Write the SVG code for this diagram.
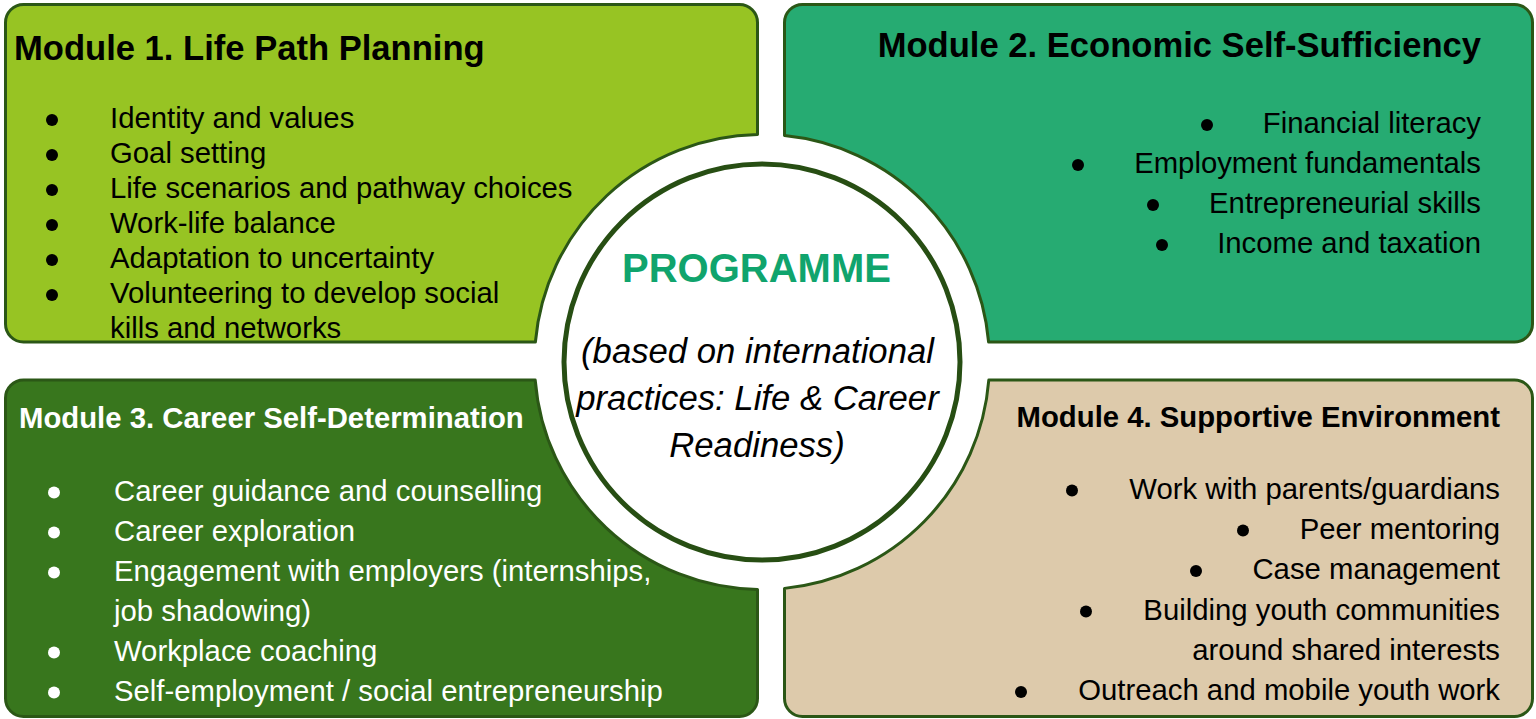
<svg xmlns="http://www.w3.org/2000/svg" width="1536" height="719" viewBox="0 0 1536 719">
<style>
.box{stroke:#2b5716;stroke-width:3;stroke-linejoin:round}
.title{font-family:"Liberation Sans",Arial,sans-serif;font-weight:bold;fill:#000}
.body{font-family:"Liberation Sans",Arial,sans-serif;font-size:29.3px;fill:#000}
.white{fill:#fff}
.blt{fill:#000}
.bltw{fill:#fff}
.it{font-family:"Liberation Sans",Arial,sans-serif;font-style:italic;font-size:34.7px;fill:#000}
</style>
<rect width="1536" height="719" fill="#fff"/>
<g id="module1">
<path class="box" fill="#97c423" d="M23.5,4.5 H739.5 A18,18 0 0 1 757.5,22.5 V134.54 A227.5,227.5 0 0 0 535.38,342 H23.5 A18,18 0 0 1 5.5,324 V22.5 A18,18 0 0 1 23.5,4.5 Z"/>
<text class="title" x="14" y="60" font-size="34.6">Module 1. Life Path Planning</text>
<g class="blt"><circle cx="52" cy="120" r="6"/><circle cx="52" cy="155" r="6"/><circle cx="52" cy="190" r="6"/><circle cx="52" cy="225" r="6"/><circle cx="52" cy="260" r="6"/><circle cx="52" cy="295" r="6"/></g>
<text class="body" x="110" y="128">Identity and values</text>
<text class="body" x="110" y="163">Goal setting</text>
<text class="body" x="110" y="198">Life scenarios and pathway choices</text>
<text class="body" x="110" y="233">Work-life balance</text>
<text class="body" x="110" y="268">Adaptation to uncertainty</text>
<text class="body" x="110" y="303">Volunteering to develop social</text>
<text class="body" x="110" y="338">kills and networks</text>
</g>
<g id="module2">
<path class="box" fill="#26ab72" d="M802.5,4.5 H1514.5 A18,18 0 0 1 1532.5,22.5 V324 A18,18 0 0 1 1514.5,342 H988.62 A227.5,227.5 0 0 0 784.5,135.6 V22.5 A18,18 0 0 1 802.5,4.5 Z"/>
<text class="title" x="1481" y="57" font-size="34.6" text-anchor="end">Module 2. Economic Self-Sufficiency</text>
<g class="blt"><circle cx="1207" cy="125" r="6"/><circle cx="1078" cy="165" r="6"/><circle cx="1153" cy="205" r="6"/><circle cx="1162" cy="245" r="6"/></g>
<text class="body" x="1481" y="133" text-anchor="end">Financial literacy</text>
<text class="body" x="1481" y="173" text-anchor="end">Employment fundamentals</text>
<text class="body" x="1481" y="213" text-anchor="end">Entrepreneurial skills</text>
<text class="body" x="1481" y="253" text-anchor="end">Income and taxation</text>
</g>
<g id="module3">
<path class="box" fill="#38761d" d="M23.5,380 H535.2 A227.5,227.5 0 0 0 757.5,589.46 V698.5 A18,18 0 0 1 739.5,716.5 H23.5 A18,18 0 0 1 5.5,698.5 V398 A18,18 0 0 1 23.5,380 Z"/>
<text class="title white" x="19" y="428" font-size="29.3">Module 3. Career Self-Determination</text>
<g class="bltw"><circle cx="54" cy="492.5" r="6"/><circle cx="54" cy="532.5" r="6"/><circle cx="54" cy="572.5" r="6"/><circle cx="54" cy="652.5" r="6"/><circle cx="54" cy="692.5" r="6"/></g>
<text class="body white" x="114" y="500.5">Career guidance and counselling</text>
<text class="body white" x="114" y="540.5">Career exploration</text>
<text class="body white" x="114" y="580.5">Engagement with employers (internships,</text>
<text class="body white" x="114" y="620.5">job shadowing)</text>
<text class="body white" x="114" y="660.5">Workplace coaching</text>
<text class="body white" x="114" y="700.5">Self-employment / social entrepreneurship</text>
</g>
<g id="module4">
<path class="box" fill="#ddcaab" d="M784.5,588.38 A227.5,227.5 0 0 0 988.8,380 H1514.5 A18,18 0 0 1 1532.5,398 V698.5 A18,18 0 0 1 1514.5,716.5 H802.5 A18,18 0 0 1 784.5,698.5 Z"/>
<text class="title" x="1500" y="427" font-size="29.3" text-anchor="end">Module 4. Supportive Environment</text>
<g class="blt"><circle cx="1072" cy="490.5" r="6"/><circle cx="1243" cy="530.5" r="6"/><circle cx="1196" cy="571" r="6"/><circle cx="1086" cy="611.5" r="6"/><circle cx="1021" cy="692" r="6"/></g>
<text class="body" x="1500" y="498.5" text-anchor="end">Work with parents/guardians</text>
<text class="body" x="1500" y="538.5" text-anchor="end">Peer mentoring</text>
<text class="body" x="1500" y="579" text-anchor="end">Case management</text>
<text class="body" x="1500" y="619.5" text-anchor="end">Building youth communities</text>
<text class="body" x="1500" y="660" text-anchor="end">around shared interests</text>
<text class="body" x="1500" y="700" text-anchor="end">Outreach and mobile youth work</text>
</g>
<g id="programme">
<circle cx="762" cy="362" r="198" fill="#fff" stroke="#274e13" stroke-width="5"/>
<text class="title" x="756.5" y="282" font-size="40" text-anchor="middle" style="fill:#10a46d">PROGRAMME</text>
<text class="it" x="757.5" y="363" text-anchor="middle">(based on international</text>
<text class="it" x="757.5" y="410" text-anchor="middle">practices: Life &amp; Career</text>
<text class="it" x="757" y="457" text-anchor="middle">Readiness)</text>
</g>
<g id="connectors"/>
</svg>
